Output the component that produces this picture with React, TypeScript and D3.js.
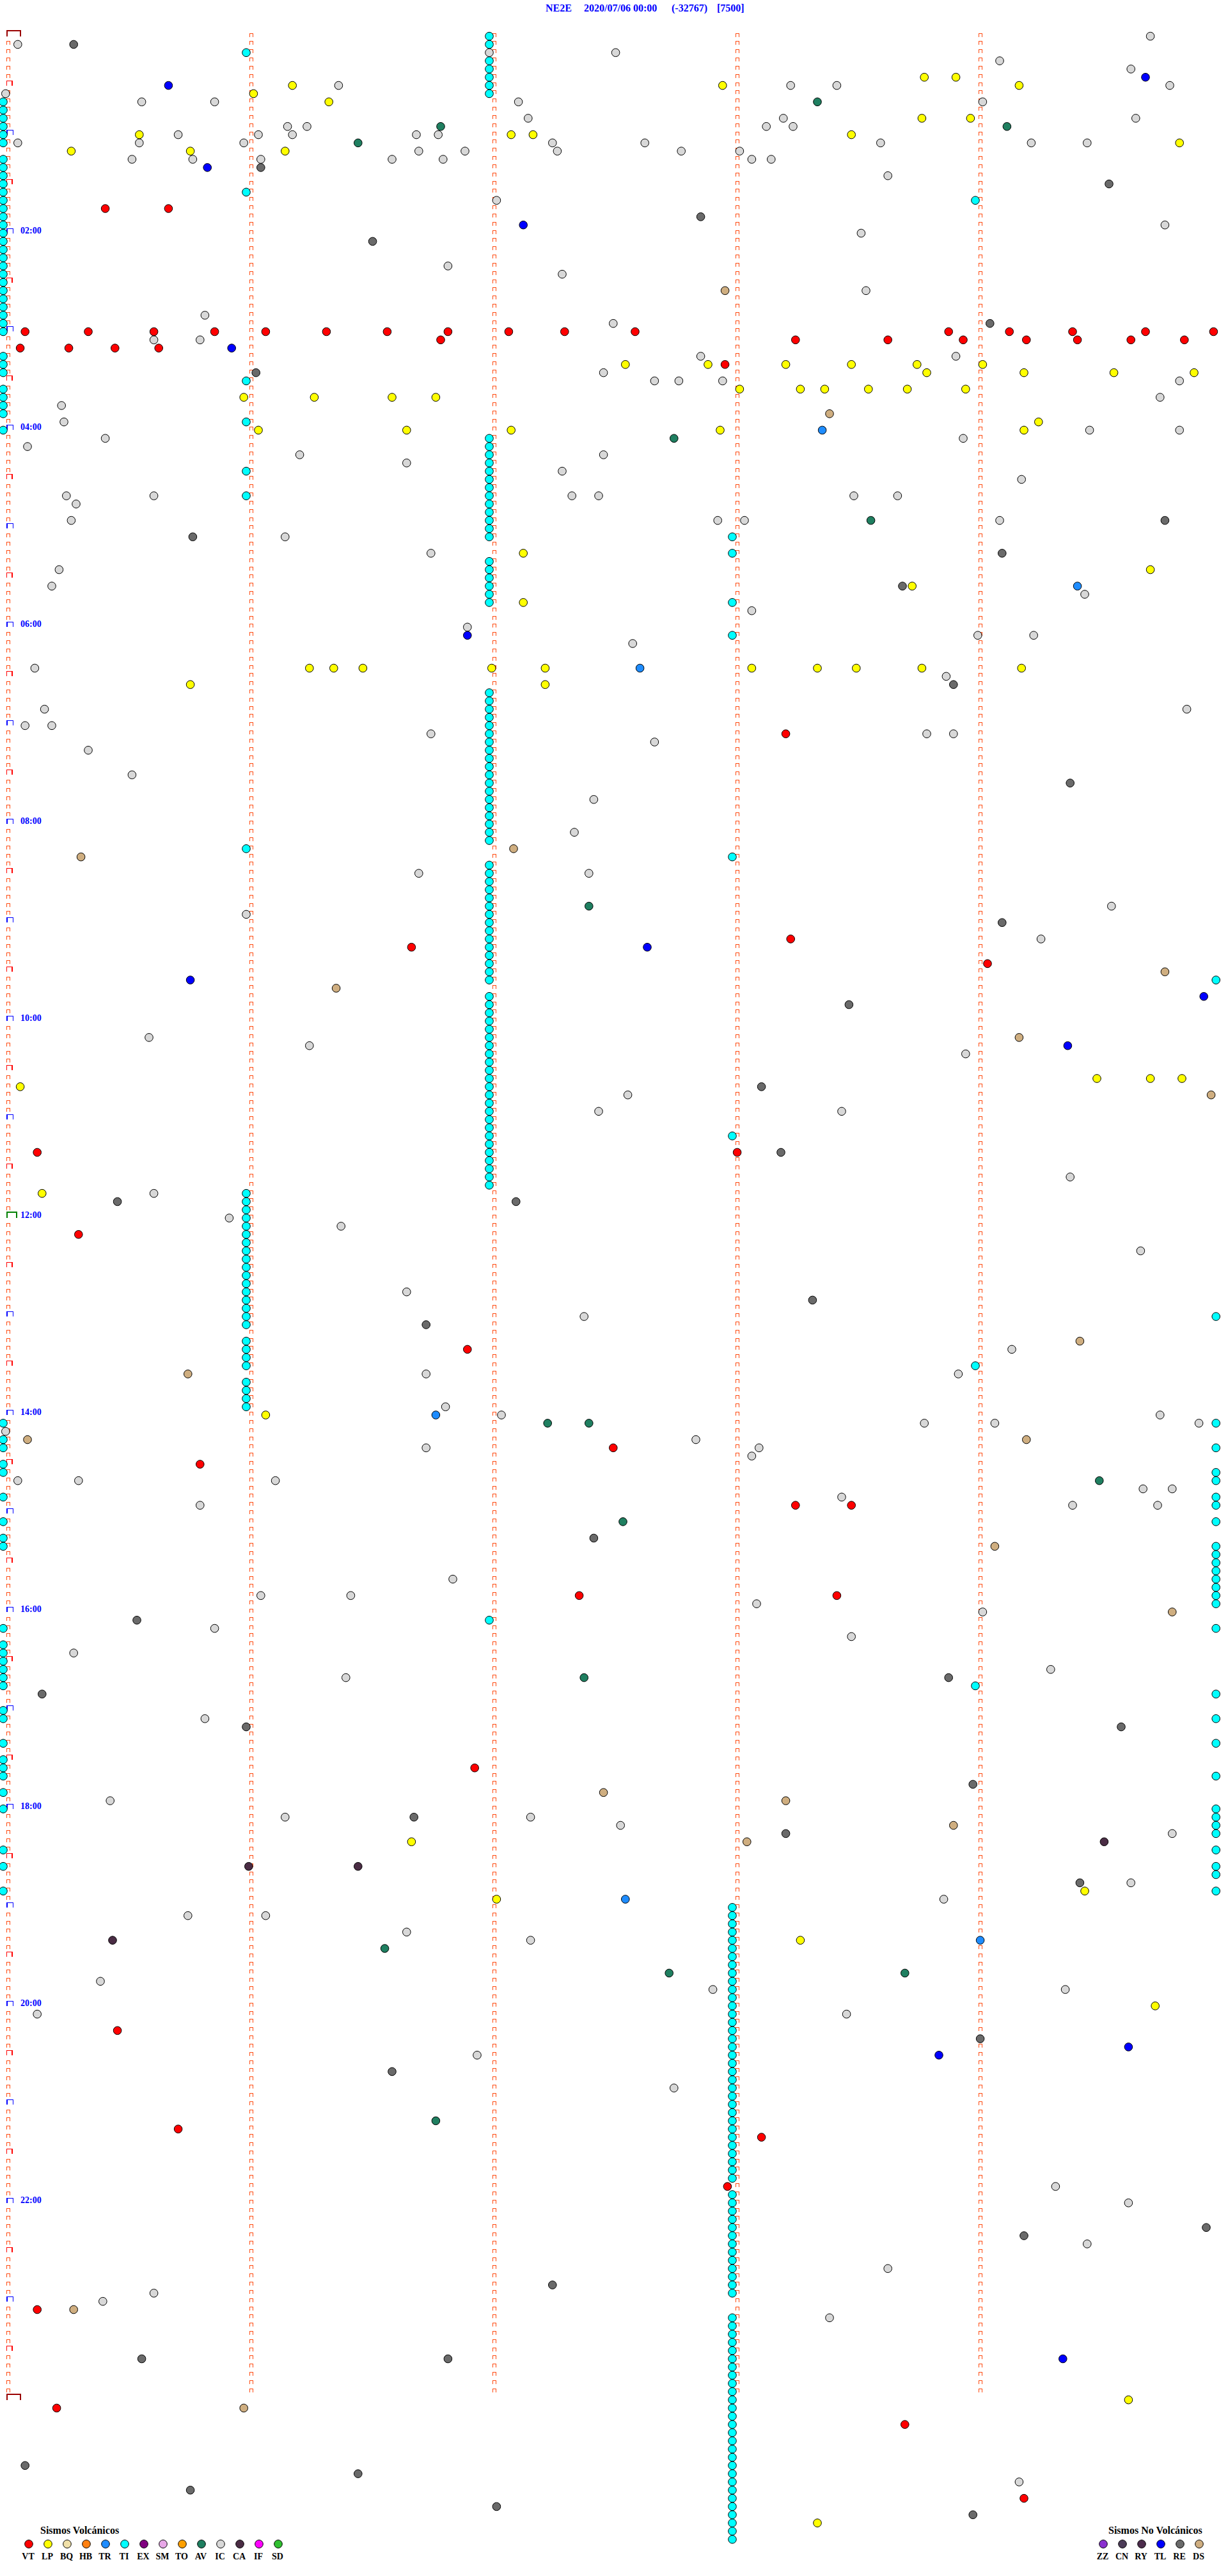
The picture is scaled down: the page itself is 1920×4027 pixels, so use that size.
import React from 'react';
import * as d3 from 'd3';

// ---------- Data (event times in minutes since 00:00, rows of 5 minutes) ----------
const TITLE_PARTS = ['NE2E', '2020/07/06 00:00', '(-32767)', '[7500]'];
const HOUR_LABELS = ['02:00', '04:00', '06:00', '08:00', '10:00', '12:00', '14:00', '16:00', '18:00', '20:00', '22:00'];
const HOUR_LABEL_HOURS = [2, 4, 6, 8, 10, 12, 14, 16, 18, 20, 22];

const VOLCANIC_CODES = ['VT', 'LP', 'BQ', 'HB', 'TR', 'TI', 'EX', 'SM', 'TO', 'AV', 'IC', 'CA', 'IF', 'SD'];
const NON_VOLCANIC_CODES = ['ZZ', 'CN', 'RY', 'TL', 'RE', 'DS'];

const CLASS_COLORS: Record<string, string> = {
  VT: '#ff0000', LP: '#ffff00', BQ: '#f0e0a8', HB: '#ff8010', TR: '#1e8cff', TI: '#00ffff',
  EX: '#800080', SM: '#e8a8e8', TO: '#ffa000', AV: '#1f7f60', IC: '#d8d8d8', CA: '#4a2c44',
  IF: '#ff00ff', SD: '#30c030', ZZ: '#8a30d0', CN: '#4c3c58', RY: '#4c2c4c', TL: '#0000ff',
  RE: '#6a6a6a', DS: '#cfae80',
};

const VT = [105.42, 105.68, 180.09, 180.35, 180.62, 180.87, 181.08, 181.33, 181.58, 181.83, 182.08, 182.31, 182.6,
  183.89, 184.14, 184.4, 184.7, 184.98, 186.8, 188.26, 188.64, 188.95, 189.21, 189.42, 189.64, 189.86, 190.07, 190.27,
  190.46, 190.64, 202.97, 428.22, 553.24, 556.68, 569.05, 680.14, 683.02, 730.31, 801.91, 862.51, 870.81, 898.26,
  898.49, 952.37, 953.43, 1056.94, 1215.47, 1275.72, 1283.12, 1312.98, 1385.14, 1445.22, 1458.71, 1504.2];

const LP = [28.79, 28.92, 31.19, 32.96, 34.18, 36.03, 41.34, 53.78, 53.98, 60.56, 62.09, 62.18, 63.49, 69.84, 70.28,
  70.77, 71.16, 202.56, 202.9, 203.22, 203.49, 203.76, 204.03, 208.8, 209.2, 209.57, 209.9, 218.03, 218.28, 218.38,
  218.56, 218.72, 218.96, 220.99, 221.28, 221.6, 221.78, 239.26, 241.05, 241.66, 242.09, 242.95, 244.2, 317.14,
  329.72, 338.74, 347.14, 386.26, 386.36, 386.48, 387.01, 387.23, 388.08, 388.35, 388.51, 388.78, 389.19, 395.77,
  397.23, 639.5, 639.72, 639.85, 640.07, 705.16, 841.08, 1101.68, 1134.45, 1137.03, 1163.28, 1204.74, 1444.63, 1518.35];

const TR = [243.37, 339.42, 387.62, 841.78, 1137.56, 1164.02];

const TI = [2, 7, 11, 17, 22, 27, 32, 37, 40, 45, 50, 55, 60, 65, 75, 80, 85, 90, 95, 96, 100, 104, 105, 110, 115, 120,
  125, 130, 135, 140, 145, 150, 155, 160, 165, 170, 175, 180, 195, 200, 205, 211, 215, 220, 225, 230, 236, 240,
  247, 252, 257, 262, 266, 267, 272, 277, 281, 282, 287, 292, 297, 302, 307, 308, 318, 322, 327, 332, 337, 342, 347,
  348, 368, 402, 407, 412, 417, 422, 427, 432, 437, 442, 447, 452, 457, 462, 467, 472, 477, 482, 487, 492, 496, 503,
  507, 512, 517, 522, 527, 532, 537, 542, 547, 552, 557, 562, 567, 572, 577, 579.99, 587, 592, 597, 602, 607, 612,
  617, 622, 627, 632, 637, 642, 647, 652, 657, 662, 667, 672, 673, 677, 682, 687, 692, 697, 702, 706, 711, 716, 721,
  726, 731, 736, 741, 746, 751, 756, 761, 766, 771, 776, 781, 784.99, 786, 796, 801, 806, 811, 814, 821, 826, 831,
  836, 845, 849.99, 855, 860, 864.99, 870, 875, 879.99, 884.99, 890, 894.99, 899.99, 905, 909.99, 915, 920, 924.99,
  929.99, 934.99, 939.99, 944.99, 949.99, 954.99, 959.99, 967, 970, 974.99, 980, 985, 990, 995, 1000, 1005, 1009,
  1014.99, 1020, 1025, 1029.99, 1040, 1044.99, 1050, 1055, 1060, 1064.99, 1070, 1080, 1084.99, 1089.99, 1094.99,
  1099.99, 1105, 1109.99, 1115, 1119.99, 1124.99, 1130, 1134.99,
  1143, 1148, 1153, 1158, 1163, 1168, 1173, 1178, 1183, 1188, 1193, 1198, 1203, 1208, 1213, 1218, 1223, 1228, 1233,
  1238, 1243, 1248, 1253, 1258, 1263, 1268, 1273, 1278, 1283, 1288, 1293, 1298, 1303, 1308, 1318, 1323, 1328, 1333,
  1338, 1343, 1348, 1353, 1358, 1363, 1368, 1373, 1378, 1393, 1398, 1403, 1408, 1413, 1418, 1423, 1428, 1433, 1438,
  1443, 1448, 1453, 1458, 1463, 1468, 1473, 1478, 1483, 1488, 1493, 1498, 1503, 1508, 1513, 1518, 1523, 1528];

const AV = [43.35, 56.8, 59.13, 66.46, 247.76, 298.57, 532.41, 847.24, 847.41, 884.51, 907.55, 1002.39, 1166.57,
  1182.74, 1183.71, 1271.78];

const IC = [4.72, 5.06, 12.0, 12.52, 19.1, 24.64, 31.38, 33.24, 33.43, 34.8, 35.01, 40.57, 40.87, 42.12, 44.03, 52.16,
  53.21, 54.66, 56.17, 56.25, 58.14, 58.25, 60.72, 61.05, 61.19, 61.7, 61.79, 65.06, 65.56, 65.99, 67.26, 67.64,
  68.61, 69.23, 69.46, 71.71, 71.9, 72.28, 72.79, 73.03, 75.53, 75.78, 76.06, 76.6, 76.81, 78.08, 78.16, 88.64,
  102.03, 119.78, 123.53, 141.83, 147.3, 158.55, 170.83, 177.51, 185.62, 185.81, 197.87, 198.92, 207.47, 212.68,
  212.78, 212.96, 214.84, 224.76, 225.24, 235.25, 244.47, 244.84, 245.42, 248.95, 250.1, 256.22, 257.47, 261.66,
  267.3, 274.19, 280.26, 280.62, 282.34, 282.45, 283.5, 283.68, 285.3, 295.28, 297.94, 298.05, 299.1, 306.16,
  316.76, 325.23, 335.2, 344.45, 353.08, 361.91, 369.01, 369.24, 372.59, 385.13, 393.88, 410.17, 414.87, 420.09,
  420.2, 426.76, 428.8, 428.91, 432.68, 435.35, 450.53, 467.43, 487.35, 511.71, 512.41, 534.56, 536.0, 554.27,
  610.6, 616.26, 623.96, 647.57, 657.45, 658.45, 699.39, 705.62, 720.93, 726.39, 744.68, 766.66, 782.39, 804.15,
  816.74, 818.93, 836.82, 842.05, 844.76, 848.79, 849.08, 849.92, 850.01, 857.85, 861.74, 863.11, 868.08, 880.06,
  880.31, 881.12, 889.69, 889.81, 893.45, 895.81, 899.4, 899.75, 941.85, 951.06, 951.43, 958.1, 964.03, 970.87,
  978.49, 985.29, 999.31, 1001.41, 1025.83, 1075.44, 1086.16, 1087.17, 1092.54, 1099.81, 1129.64, 1138.87, 1145.76,
  1146.08, 1156.66, 1162.17, 1185.4, 1192.92, 1194.37, 1205.14, 1208.47, 1231.95, 1252.76, 1314.33, 1324.63,
  1349.46, 1363.64, 1375.62, 1380.41, 1393.4, 1494.18];

const CA = [1104.53, 1116.01, 1116.46, 1160.45];

const TL = [29.7, 30.68, 80.84, 117.14, 190.94, 366.91, 557.65, 575.77, 589.94, 619.38, 1229.63, 1233.85, 1419.36];

const RE = [5.29, 81.06, 94.55, 112.87, 126.52, 179.06, 206.04, 299.78, 305.78, 319.11, 338.7, 398.91, 459.39, 544.11,
  593.48, 643.12, 683.2, 710.47, 712.11, 773.33, 786.74, 917.43, 965.55, 1003.89, 1010.16, 1031.0, 1034.6, 1068.99,
  1086.69, 1098.22, 1129.43, 1224.02, 1241.6, 1339.95, 1344.2, 1372.26, 1415.57, 1416.83, 1480.09, 1486.46, 1495.77,
  1507.03, 1513.99];

const DS = [157.97, 233.4, 497.1, 500.32, 574.78, 581.37, 614.18, 649.97, 799.43, 815.76, 855.1, 859.21, 924.08,
  964.81, 1072.47, 1078.22, 1093.91, 1103.06, 1385.29, 1445.99];

const SERIES: [string, number[]][] = [
  ['TI', TI], ['IC', IC], ['LP', LP], ['VT', VT], ['TR', TR], ['AV', AV], ['CA', CA], ['TL', TL], ['RE', RE], ['DS', DS],
];

const MINUTES_PER_ROW = 5;
const ROWS_PER_DAY = 288;
const FONT = '"Liberation Serif", "Times New Roman", serif';

export default function App() {
  const W = 1920;
  const H = 4027;
  const x = d3.scaleLinear().domain([0, MINUTES_PER_ROW]).range([5, 1905]);
  const y = d3.scaleLinear().domain([0, ROWS_PER_DAY]).range([56.6, 56.6 + ROWS_PER_DAY * 12.83]);
  const rows = d3.range(ROWS_PER_DAY);
  const cols = d3.range(MINUTES_PER_ROW);

  const tickPath = (x0: number, cy: number, w: number, h: number) => `M${x0},${cy} V${cy - h} H${x0 + w} V${cy}`;

  const ticks: React.ReactNode[] = [];
  cols.forEach((c) => {
    rows.forEach((r) => {
      if (c === 0 && r % 6 === 0) return;
      const cy = Math.round(y(r)) + 0.5;
      const x0 = Math.round(x(c)) + 5.5;
      ticks.push(<path key={`t${c}-${r}`} d={tickPath(x0, cy, 5, 5)} fill="none" stroke="#ff4a10" strokeWidth={1.1} />);
    });
  });
  // column-0 brackets
  const brackets: React.ReactNode[] = [];
  d3.range(0, ROWS_PER_DAY + 1, 6).forEach((r) => {
    const cy = Math.round(y(r));
    const x0 = Math.round(x(0)) + 5;
    if (r === 0 || r === ROWS_PER_DAY) {
      brackets.push(<path key={`b${r}`} d={tickPath(x0 + 0.5, cy, 21, 9.5)} fill="none" stroke="#990000" strokeWidth={2} />);
    } else if (r === 144) {
      brackets.push(<path key={`b${r}`} d={tickPath(x0 + 0.5, cy, 15.5, 9.5)} fill="none" stroke="#008000" strokeWidth={2} />);
    } else if (r % 12 === 0) {
      brackets.push(<path key={`b${r}`} d={tickPath(x0 + 1, cy, 9.5, 7.5)} fill="none" stroke="#0000ff" strokeWidth={1.8} />);
    } else {
      brackets.push(<path key={`b${r}`} d={tickPath(x0 + 0.5, cy, 8.5, 7.5)} fill="none" stroke="#ff0000" strokeWidth={1.1} />);
    }
  });

  const circles: React.ReactNode[] = [];
  SERIES.forEach(([code, values]) => {
    values.forEach((t, i) => {
      const r = Math.floor(t / MINUTES_PER_ROW + 1e-9);
      const m = t - r * MINUTES_PER_ROW;
      circles.push(
        <circle key={`${code}-${i}`} cx={x(m)} cy={y(r)} r={6.3} fill={CLASS_COLORS[code]} stroke="#000" strokeWidth={1} />
      );
    });
  });

  const titleX = [853, 913, 1050, 1121];

  return (
    <div style={{ position: 'absolute', left: 0, top: 0, width: W, height: H, background: '#fff' }}>
      <svg width={W} height={H} viewBox={`0 0 ${W} ${H}`} style={{ display: 'block' }}>
        <rect x={0} y={0} width={W} height={H} fill="#fff" />
        {TITLE_PARTS.map((s, i) => (
          <text key={s} x={titleX[i]} y={18} fontFamily={FONT} fontWeight="bold" fontSize={16} fill="#0000ff">{s}</text>
        ))}
        <g shapeRendering="crispEdges">{ticks}{brackets}</g>
        {HOUR_LABELS.map((lab, i) => (
          <text key={lab} x={32} y={y(HOUR_LABEL_HOURS[i] * 12)} fontFamily={FONT} fontWeight="bold" fontSize={14} fill="#0000ff">{lab}</text>
        ))}
        <g>{circles}</g>
        {/* Legends */}
        <text x={63} y={3961} fontFamily={FONT} fontWeight="bold" fontSize={16} fill="#000">Sismos Volcánicos</text>
        {VOLCANIC_CODES.map((c, i) => (
          <g key={c}>
            <circle cx={45 + 30 * i} cy={3977} r={6.3} fill={CLASS_COLORS[c]} stroke="#000" strokeWidth={1} />
            <text x={44 + 30 * i} y={4001} textAnchor="middle" fontFamily={FONT} fontWeight="bold" fontSize={14} fill="#000">{c}</text>
          </g>
        ))}
        <text x={1733} y={3961} fontFamily={FONT} fontWeight="bold" fontSize={16} fill="#000">Sismos No Volcánicos</text>
        {NON_VOLCANIC_CODES.map((c, i) => (
          <g key={c}>
            <circle cx={1725 + 30 * i} cy={3977} r={6.3} fill={CLASS_COLORS[c]} stroke="#000" strokeWidth={1} />
            <text x={1724 + 30 * i} y={4001} textAnchor="middle" fontFamily={FONT} fontWeight="bold" fontSize={14} fill="#000">{c}</text>
          </g>
        ))}
      </svg>
    </div>
  );
}
